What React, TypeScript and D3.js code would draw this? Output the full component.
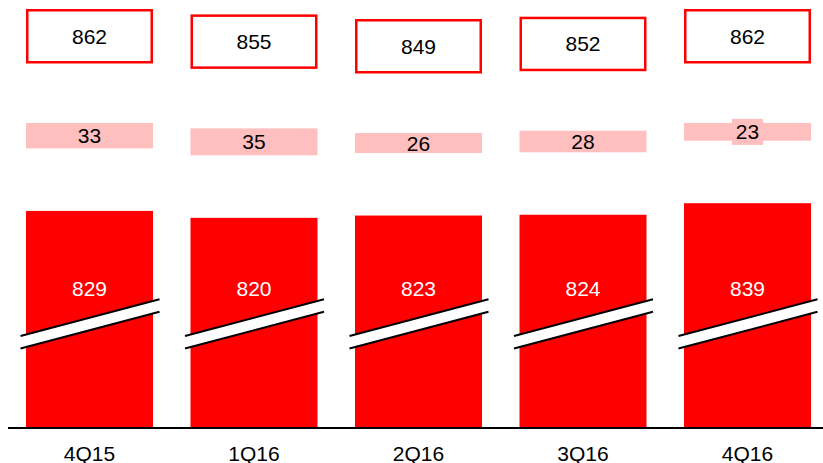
import React from 'react';
import * as d3 from 'd3';

const categories = ['4Q15', '1Q16', '2Q16', '3Q16', '4Q16'];
const baseValues = [829, 820, 823, 824, 839];
const addValues = [33, 35, 26, 28, 23];
const totals = baseValues.map((v, i) => v + addValues[i]);

const W = 823;
const H = 463;
const RED = '#FF0000';
const PINK = '#FFBFBF';
const FONT = '"Liberation Sans", Arial, sans-serif';

export default function App() {
  const x = d3.scaleBand<string>().domain(categories).range([26, 811]).paddingInner(0.228).paddingOuter(0);
  const bw = x.bandwidth();
  // value -> pixel offset (0.77 px per unit), shared by all segments of the broken chart
  const y = d3.scaleLinear().domain([862, 762]).range([0, 77]);
  const baseline = 428;
  const offRed = 185.5;
  const offPink = 123;
  const offBox = 10.25;
  const boxH = 52;
  const breakY = 336;
  const breakRise = 36.7;
  const breakGap = 12.5;

  return (
    <svg width={W} height={H} style={{ position: 'absolute', left: 0, top: 0, background: '#fff' }} fontFamily={FONT}>
      {categories.map((c, i) => {
        const x0 = x(c)!;
        const cx = x0 + bw / 2;
        const redTop = offRed + y(baseValues[i]);
        const pinkTop = offPink + y(totals[i]);
        const pinkBot = offPink + y(baseValues[i]);
        const pinkMid = (pinkTop + pinkBot) / 2;
        const boxTop = offBox + y(totals[i]);
        const lx0 = x0 - 5.5;
        const lx1 = x0 + bw + 6.5;
        const showBg = pinkBot - pinkTop < 19;
        return (
          <g key={c}>
            <rect x={x0} y={redTop} width={bw} height={baseline - redTop} fill={RED} />
            <text x={cx} y={288} textAnchor="middle" dominantBaseline="central" fontSize={21} fill="#fff">
              {baseValues[i]}
            </text>
            <polygon
              points={`${lx0},${breakY} ${lx1},${breakY - breakRise} ${lx1},${breakY - breakRise + breakGap} ${lx0},${breakY + breakGap}`}
              fill="#fff"
            />
            <line x1={lx0} y1={breakY} x2={lx1} y2={breakY - breakRise} stroke="#000" strokeWidth={2} />
            <line x1={lx0} y1={breakY + breakGap} x2={lx1} y2={breakY - breakRise + breakGap} stroke="#000" strokeWidth={2} />

            <rect x={x0} y={pinkTop} width={bw} height={pinkBot - pinkTop} fill={PINK} />
            {showBg && <rect x={cx - 15.5} y={pinkMid - 13} width={31} height={26} fill={PINK} />}
            <text x={cx} y={pinkMid} textAnchor="middle" dominantBaseline="central" fontSize={21} fill="#000">
              {addValues[i]}
            </text>

            <rect x={x0 + 1.25} y={boxTop} width={bw - 2.5} height={boxH} fill="#fff" stroke={RED} strokeWidth={2.5} />
            <text x={cx} y={boxTop + boxH / 2} textAnchor="middle" dominantBaseline="central" fontSize={21} fill="#000">
              {totals[i]}
            </text>

            <text x={cx} y={453} textAnchor="middle" dominantBaseline="central" fontSize={21} fill="#000">
              {c}
            </text>
          </g>
        );
      })}
      <line x1={8} y1={baseline} x2={W} y2={baseline} stroke="#000" strokeWidth={2} />
    </svg>
  );
}
